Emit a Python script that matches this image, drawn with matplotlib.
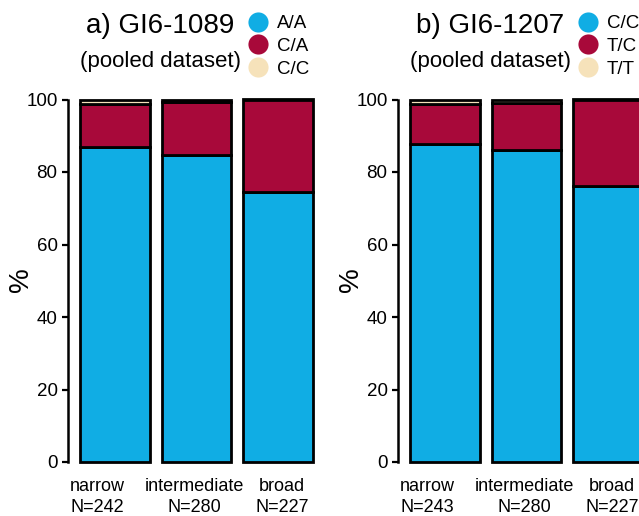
import matplotlib.pyplot as plt
from matplotlib.lines import Line2D
from matplotlib.transforms import blended_transform_factory

plt.rcParams['font.family'] = ['Liberation Sans', 'DejaVu Sans']

# data (percent of individuals per genotype)
groups = ['narrow', 'intermediate', 'broad']
n_a = [242, 280, 227]
n_b = [243, 280, 227]

genotypes_a = ['A/A', 'C/A', 'C/C']
aa_a = [86.8, 84.7, 74.4]
ca_a = [12.0, 14.6, 25.6]
cc_a = [1.2, 0.7, 0.0]

genotypes_b = ['C/C', 'T/C', 'T/T']
cc_b = [87.7, 86.1, 76.2]
tc_b = [11.1, 12.9, 23.8]
tt_b = [1.2, 1.0, 0.0]

colors = ['#10ADE4', '#A8093A', '#F6E2BA']

W, H = 639, 516
fig = plt.figure(figsize=(W / 100, H / 100), dpi=100)


def px_axes(left, top, width, height):
    return fig.add_axes([left / W, 1 - (top + height) / H, width / W, height / H])


def draw_panel(left, title, genotypes, series, ns):
    ax = px_axes(left, 99.5, 257, 362.5)
    x = list(range(len(groups)))
    bottom = [0.0] * len(groups)
    for vals, col in zip(series, colors):
        ax.bar(x, vals, bottom=bottom, width=0.85, color=col,
               edgecolor='black', linewidth=2.0, clip_on=False)
        bottom = [b + v for b, v in zip(bottom, vals)]
    ax.set_xlim(-0.573, 2.573)
    ax.set_ylim(0, 100)
    for s in ['top', 'right', 'bottom']:
        ax.spines[s].set_visible(False)
    ax.spines['left'].set_bounds(0, 100)
    ax.spines['left'].set_linewidth(1.8)
    ax.set_xticks([])
    ax.set_yticks([0, 20, 40, 60, 80, 100])
    ax.tick_params(axis='y', length=4, width=1.6, pad=3.5, labelsize=13.5)

    # category labels under the bars
    trans = blended_transform_factory(ax.transData, ax.transAxes)
    offsets = [-0.22, -0.03, 0.05]
    for i, (g, n) in enumerate(zip(groups, ns)):
        ax.text(i + offsets[i], -0.045, f'{g}\nN={n}', transform=trans,
                ha='center', va='top', fontsize=13, linespacing=1.25)

    cx = left - 68 + 160
    fig.text(cx / W, 1 - 26 / H, title, ha='center', va='center', fontsize=20)
    fig.text(cx / W, 1 - 62 / H, '(pooled dataset)', ha='center', va='center', fontsize=16)
    fig.text((left - 47) / W, 1 - 280 / H, '%', ha='center', va='center',
             rotation=90, fontsize=20)

    handles = [Line2D([], [], linestyle='none', marker='o', markersize=14.5,
                      markerfacecolor=c, markeredgecolor='none') for c in colors]
    fig.legend(handles, genotypes, loc='upper left',
               bbox_to_anchor=((left - 68 + 247) / W, 1 - 15 / H),
               frameon=False, fontsize=13.5, borderpad=0, borderaxespad=0,
               handlelength=1.2, handletextpad=0.4, labelspacing=0.3)
    return ax


draw_panel(68, 'a) GI6-1089', genotypes_a, [aa_a, ca_a, cc_a], n_a)
draw_panel(398, 'b) GI6-1207', genotypes_b, [cc_b, tc_b, tt_b], n_b)

fig.savefig('out.png', dpi=100)
